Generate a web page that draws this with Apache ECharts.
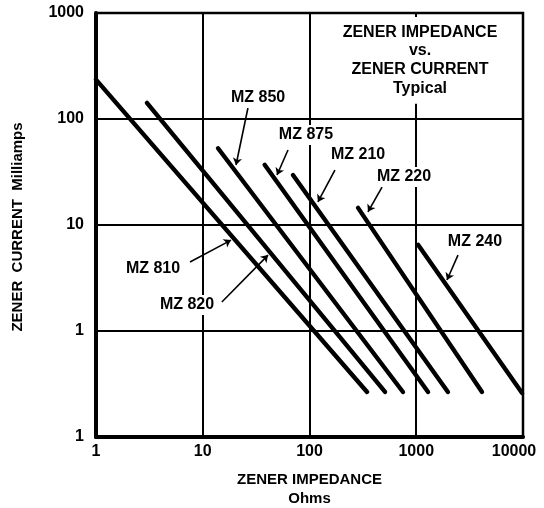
<!DOCTYPE html>
<html>
<head>
<meta charset="utf-8">
<script src="https://cdn.jsdelivr.net/npm/echarts@6/dist/echarts.min.js"></script>
<style>html,body{margin:0;padding:0;background:#fff}#c{width:544px;height:508px}</style>
</head>
<body>
<div id="c"></div>
<script>
// ---- data ----
const deviceNames    = ['MZ 810', 'MZ 820', 'MZ 850', 'MZ 875', 'MZ 210', 'MZ 220', 'MZ 240'];
const impedanceStart = [1, 3.0, 13.9, 38, 70, 285, 1040];      // Ohms
const currentStart   = [235, 142, 53, 37, 29.6, 14.5, 6.5];     // mA
const impedanceEnd   = [346, 510, 751, 1290, 1980, 4130, 9800]; // Ohms
const currentEnd     = [0.266, 0.266, 0.266, 0.266, 0.266, 0.266, 0.26]; // mA

// label anchors and leader lines (data coordinates)
const labelImpedance  = [3.42, 7.12, 33, 92.7, 285, 768, 3550];
const labelCurrent    = [3.85, 1.76, 158, 70.6, 45.7, 28.4, 6.9];
const leaderFromImp   = [7.6, 15.1, 26.5, 62.9, 173, 478, 2460];
const leaderFromCur   = [4.48, 1.88, 127, 51, 33, 22.8, 5.2];
const leaderToImp     = [18.4, 40.9, 20.5, 49.6, 120, 353, 1941];
const leaderToCur     = [7.2, 5.2, 36.8, 29.6, 16.5, 13.3, 3.03];

const impedanceTicks = [1, 10, 100, 1000, 10000];
const xTickLabels    = ['1', '10', '100', '1000', '10000'];
const currentTicks   = [0.1, 1, 10, 100, 1000];
const yTickLabels    = ['1', '1', '10', '100', '1000'];

const titleLines = ['ZENER IMPEDANCE', 'vs.', 'ZENER CURRENT', 'Typical'];
const xAxisTitle = ['ZENER IMPEDANCE', 'Ohms'];
const yAxisTitle = 'ZENER  CURRENT  Milliamps';

// ---- chart ----
const FONT = '"Liberation Sans", Arial, sans-serif';
function tickText(v, ticks, labels) {
  const lv = Math.log10(v);
  for (let i = 0; i < ticks.length; i++) {
    if (Math.abs(Math.log10(ticks[i]) - lv) < 1e-6) return labels[i];
  }
  return '';
}

const chart = echarts.init(document.getElementById('c'), null, {renderer: 'canvas'});

const series = [];
deviceNames.forEach((n, i) => {
  series.push({
    name: n, type: 'line', symbol: 'none', silent: true,
    data: [[impedanceStart[i], currentStart[i]], [impedanceEnd[i], currentEnd[i]]],
    lineStyle: {color: '#000', width: 4.4, cap: 'round'},
    z: 3
  });
});
series.push({
  type: 'lines', coordinateSystem: 'cartesian2d', silent: true,
  symbol: ['none', 'arrow'], symbolSize: 7,
  lineStyle: {color: '#000', width: 1.6, opacity: 1, curveness: 0},
  data: deviceNames.map((n, i) => ({
    coords: [[leaderFromImp[i], leaderFromCur[i]], [leaderToImp[i], leaderToCur[i]]]
  })),
  z: 4
});
series.push({
  type: 'scatter', symbolSize: 0, silent: true,
  itemStyle: {opacity: 1, color: '#000'},
  data: deviceNames.map((n, i) => ({name: n, value: [labelImpedance[i], labelCurrent[i]]})),
  label: {
    show: true, position: 'inside', formatter: '{b}', opacity: 1,
    color: '#000', fontFamily: FONT, fontWeight: 'bold', fontSize: 16,
    backgroundColor: '#fff', padding: [2, 3, 2, 3]
  },
  z: 5
});

chart.setOption({
  backgroundColor: '#fff',
  animation: false,
  grid: {left: 96, right: 21, top: 13, bottom: 71, show: true, containLabel: false,
         outerBoundsMode: 'none',
         borderColor: '#000', borderWidth: 2.5, backgroundColor: 'transparent'},
  xAxis: {
    type: 'log', logBase: 10, min: impedanceTicks[0], max: impedanceTicks[impedanceTicks.length - 1],
    axisLine: {show: true, onZero: false, lineStyle: {color: '#000', width: 4}},
    axisTick: {show: false},
    minorTick: {show: false},
    splitLine: {show: true, lineStyle: {color: '#000', width: 2}},
    axisLabel: {
      color: '#000', fontFamily: FONT, fontWeight: 'bold', fontSize: 16, margin: 7,
      formatter: v => {
        const t = tickText(v, impedanceTicks, xTickLabels);
        return t === xTickLabels[xTickLabels.length - 1] ? '{last|' + t + '}' : t;
      },
      rich: {last: {color: '#000', fontFamily: FONT, fontWeight: 'bold', fontSize: 16, padding: [0, 18, 0, 0]}}
    },
    name: xAxisTitle.join('\n'), nameLocation: 'middle', nameGap: 33,
    nameTextStyle: {color: '#000', fontFamily: FONT, fontWeight: 'bold', fontSize: 15, lineHeight: 19}
  },
  yAxis: {
    type: 'log', logBase: 10, min: currentTicks[0], max: currentTicks[currentTicks.length - 1],
    axisLine: {show: true, onZero: false, lineStyle: {color: '#000', width: 4}},
    axisTick: {show: false},
    minorTick: {show: false},
    splitLine: {show: true, lineStyle: {color: '#000', width: 2}},
    axisLabel: {
      color: '#000', fontFamily: FONT, fontWeight: 'bold', fontSize: 16, margin: 12,
      formatter: v => tickText(v, currentTicks, yTickLabels)
    }
  },
  graphic: [
    {
      type: 'text', x: 420, y: 17, z: 10, silent: true,
      style: {
        text: titleLines.join('\n'), align: 'center', verticalAlign: 'top',
        fill: '#000', font: 'bold 16px ' + FONT, lineHeight: 18.7,
        backgroundColor: '#fff', padding: [6, 6, 6, 6]
      }
    },
    {
      type: 'text', x: 18, y: 227, rotation: Math.PI / 2, z: 10, silent: true,
      style: {
        text: yAxisTitle, align: 'center', verticalAlign: 'middle',
        fill: '#000', font: 'bold 15px ' + FONT
      }
    }
  ],
  series: series
});
</script>
</body>
</html>
